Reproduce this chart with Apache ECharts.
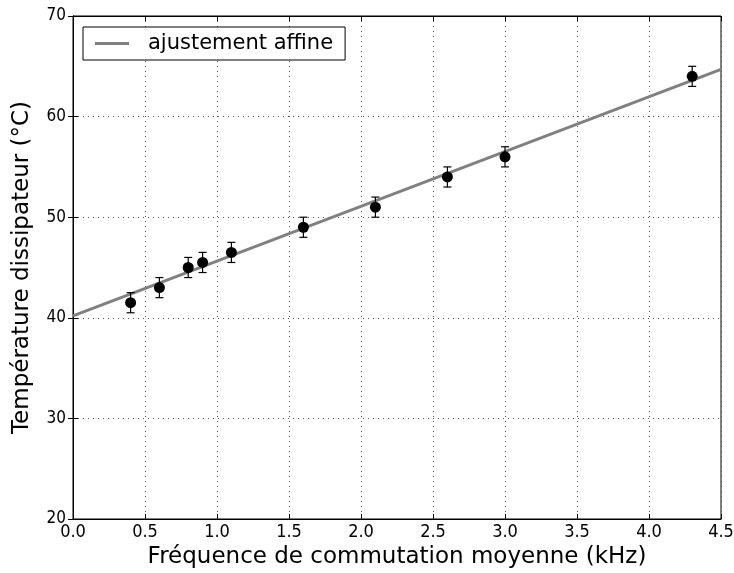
<!DOCTYPE html>
<html><head><meta charset="utf-8">
<script src="https://cdn.jsdelivr.net/npm/echarts@6/dist/echarts.min.js"></script>
<style>html,body{margin:0;padding:0;background:#fff}#c{width:734px;height:573px}</style>
</head><body><div id="c"></div>
<script>
const freq = [0.4, 0.6, 0.8, 0.9, 1.1, 1.6, 2.1, 2.6, 3.0, 4.3];
const temp = [41.5, 43.0, 45.0, 45.5, 46.5, 49.0, 51.0, 54.0, 56.0, 64.0];
const err  = [1, 1, 1, 1, 1, 1, 1, 1, 1, 1];
const fitX = [0, 4.5];
const fitY = [40.2, 64.7];
const xTicks = ['0.0','0.5','1.0','1.5','2.0','2.5','3.0','3.5','4.0','4.5'];
const yTicks = ['20','30','40','50','60','70'];

const chart = echarts.init(document.getElementById('c'));
const font = 'DejaVu Sans';
const tickFont = 'DejaVu Sans Condensed, DejaVu Sans';
const axisCommon = {
  axisLine: {show: true, lineStyle: {color: '#000', width: 1}},
  axisTick: {show: true, inside: true, length: 5, lineStyle: {color: '#000'}},
};
const grid = {show: true, lineStyle: {color: '#555', type: [1, 4], width: 1}};
chart.setOption({
  animation: false,
  backgroundColor: '#fff',
  grid: {left: 73, right: 13, top: 16, bottom: 54, show: true, borderColor: '#000', borderWidth: 1,
    containLabel: false, outerBoundsMode: 'none'},
  legend: {
    show: true, left: 83, top: 27, orient: 'vertical',
    padding: [6, 12, 6, 12], itemGap: 0,
    borderColor: '#000', borderWidth: 1, borderRadius: 0, backgroundColor: '#fff',
    itemWidth: 34, itemHeight: 3, icon: 'rect',
    textStyle: {fontFamily: font, fontSize: 21, color: '#000', padding: [0, 0, 0, 14]},
    data: [{name: 'ajustement affine', itemStyle: {color: '#808080'}}]
  },
  xAxis: [{
    type: 'value', min: 0, max: 4.5, interval: 0.5, position: 'bottom',
    name: 'Fréquence de commutation moyenne (kHz)', nameLocation: 'middle', nameGap: 25,
    nameTextStyle: {fontFamily: font, fontSize: 23, color: '#000'},
    ...axisCommon,
    axisLabel: {fontFamily: tickFont, fontSize: 18, color: '#000', margin: 4,
      formatter: v => xTicks[Math.round(v / 0.5)]},
    splitLine: grid
  }, {
    type: 'value', min: 0, max: 4.5, interval: 0.5, position: 'top',
    ...axisCommon, axisLabel: {show: false}, splitLine: {show: false}
  }],
  yAxis: [{
    type: 'value', min: 20, max: 70, interval: 10, position: 'left',
    name: 'Température dissipateur (°C)', nameLocation: 'middle', nameGap: 39,
    nameTextStyle: {fontFamily: font, fontSize: 23, color: '#000'},
    ...axisCommon,
    axisLabel: {fontFamily: tickFont, fontSize: 17, color: '#000', margin: 7,
      formatter: v => yTicks[Math.round((v - 20) / 10)]},
    splitLine: grid
  }, {
    type: 'value', min: 20, max: 70, interval: 10, position: 'right',
    ...axisCommon, axisLabel: {show: false}, splitLine: {show: false}
  }],
  series: [{
    name: 'ajustement affine', type: 'line', z: 2,
    data: fitX.map((x, i) => [x, fitY[i]]),
    showSymbol: false, symbol: 'none',
    lineStyle: {color: '#808080', width: 3}, itemStyle: {color: '#808080'}
  }, {
    name: 'err', type: 'custom', z: 3,
    data: freq.map((x, i) => [x, temp[i] - err[i], temp[i] + err[i]]),
    renderItem: (params, api) => {
      const lo = api.coord([api.value(0), api.value(1)]);
      const hi = api.coord([api.value(0), api.value(2)]);
      const w = 4;
      const st = {stroke: '#000', lineWidth: 1.2};
      return {type: 'group', children: [
        {type: 'line', shape: {x1: lo[0], y1: lo[1], x2: hi[0], y2: hi[1]}, style: st},
        {type: 'line', shape: {x1: lo[0]-w, y1: lo[1], x2: lo[0]+w, y2: lo[1]}, style: st},
        {type: 'line', shape: {x1: hi[0]-w, y1: hi[1], x2: hi[0]+w, y2: hi[1]}, style: st}
      ]};
    }
  }, {
    name: 'mesures', type: 'scatter', z: 4,
    data: freq.map((x, i) => [x, temp[i]]),
    symbol: 'circle', symbolSize: 11, itemStyle: {color: '#000', opacity: 1}
  }]
});
</script></body></html>
